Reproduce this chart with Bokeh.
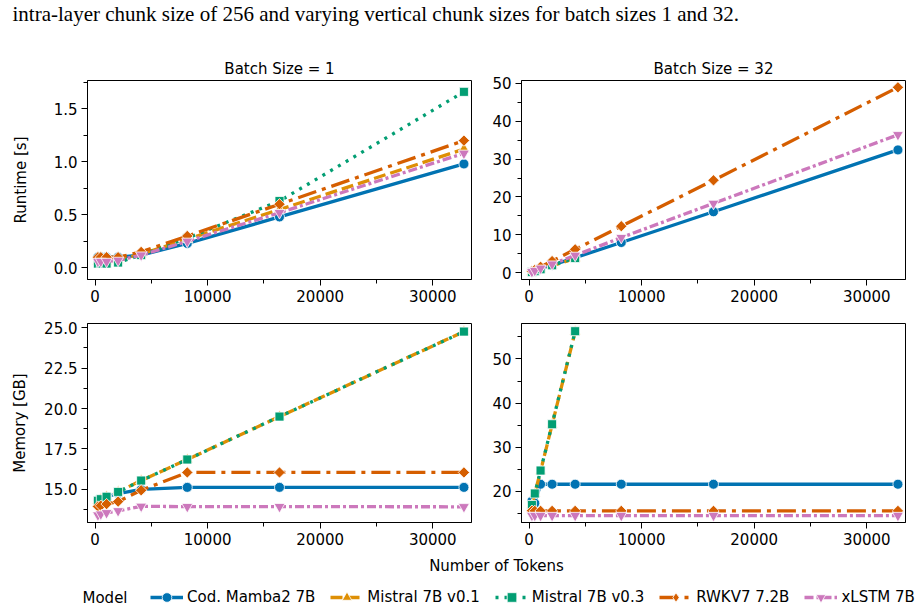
import math
from bokeh.plotting import figure
from bokeh.layouts import column, row
from bokeh.models import (Range1d, SingleIntervalTicker, NumeralTickFormatter, Label,
                          Legend, LegendItem, ColumnDataSource)
from bokeh.embed import file_html
from bokeh.resources import INLINE

# ---------------- data ----------------
tokens = [256, 512, 1024, 2048, 4096, 8192, 16384, 32768]
models = ["Cod. Mamba2 7B", "Mistral 7B v0.1", "Mistral 7B v0.3", "RWKV7 7.2B", "xLSTM 7B"]

# Runtime [s], batch size 1
rt_b1_mamba = [0.10, 0.10, 0.10, 0.10, 0.12, 0.23, 0.48, 0.98]
rt_b1_mistral01 = [0.06, 0.06, 0.06, 0.07, 0.13, 0.27, 0.55, 1.12]
rt_b1_mistral03 = [0.04, 0.04, 0.04, 0.05, 0.12, 0.28, 0.63, 1.66]
rt_b1_rwkv = [0.10, 0.10, 0.10, 0.10, 0.15, 0.30, 0.60, 1.20]
rt_b1_xlstm = [0.06, 0.06, 0.06, 0.07, 0.12, 0.25, 0.52, 1.08]

# Runtime [s], batch size 32
rt_b32_mamba = [0.25, 0.5, 1.0, 2.0, 4.0, 8.0, 16.1, 32.4]
rt_b32_mistral01 = [0.2, 0.45, 0.9, 1.9, 3.8]
rt_b32_mistral03 = [0.2, 0.45, 0.95, 2.0, 3.9]
rt_b32_rwkv = [0.4, 0.8, 1.6, 3.1, 6.2, 12.3, 24.4, 48.9]
rt_b32_xlstm = [0.3, 0.6, 1.2, 2.3, 4.6, 9.3, 18.3, 36.4]

# Memory [GB], batch size 1
mem_b1_mamba = [14.35, 14.4, 14.55, 14.75, 15.0, 15.13, 15.13, 15.13]
mem_b1_mistral01 = [14.3, 14.4, 14.55, 14.85, 15.55, 16.85, 19.5, 24.75]
mem_b1_mistral03 = [14.3, 14.4, 14.55, 14.85, 15.55, 16.85, 19.5, 24.75]
mem_b1_rwkv = [13.95, 14.0, 14.1, 14.25, 14.95, 16.05, 16.05, 16.05]
mem_b1_xlstm = [13.42, 13.48, 13.56, 13.68, 13.96, 13.94, 13.94, 13.93]

# Memory [GB], batch size 32
mem_b32_mamba = [17.8, 17.3, 21.6, 21.6, 21.6, 21.6, 21.6, 21.6]
mem_b32_mistral01 = [16.8, 19.4, 24.6, 35.1, 56.2]
mem_b32_mistral03 = [16.9, 19.5, 24.7, 35.2, 56.3]
mem_b32_rwkv = [15.6, 15.55, 15.55, 15.55, 15.55, 15.55, 15.55, 15.55]
mem_b32_xlstm = [14.5, 14.5, 14.5, 14.5, 14.5, 14.5, 14.5, 14.5]

panel_titles = ["Batch Size = 1", "Batch Size = 32"]
y_labels = ["Runtime [s]", "Memory [GB]"]
x_label = "Number of Tokens"
legend_title = "Model"
caption = "intra-layer chunk size of 256 and varying vertical chunk sizes for batch sizes 1 and 32."

# ---------------- styles ----------------
colors = ["#0173B2", "#DE8F05", "#029E73", "#D55E00", "#CC78BC"]
dashes = ["solid", "12 5", "3 6", "19 6 4 6", "9 3 3 3"]
markers = ["circle", "triangle", "square", "square", "inverted_triangle"]
legend_markers = ["circle", "triangle", "square", "diamond", "inverted_triangle"]
angles = [0, 0, 0, math.pi / 4, 0]
msizes = [10, 11, 9, 8, 11]
FONT = "DejaVu Sans"
FS = "15px"
LW = 3.3


def style_axis(ax):
    ax.major_label_text_font = FONT
    ax.major_label_text_font_size = FS
    ax.major_label_text_color = "black"
    ax.major_tick_out = 6
    ax.major_tick_in = 0
    ax.minor_tick_out = 4
    ax.minor_tick_in = 0
    ax.major_tick_line_color = "black"
    ax.minor_tick_line_color = "black"
    ax.axis_line_color = "black"
    ax.major_label_standoff = 4
    ax.axis_label_text_font = FONT
    ax.axis_label_text_font_size = FS
    ax.axis_label_text_font_style = "normal"
    ax.axis_label_text_color = "black"


def panel(series, yr, yint, yfmt, width, height, left, right, top, bottom,
          title=None, ylabel=None, ylabel_standoff=10):
    p = figure(width=width, height=height,
               x_range=Range1d(-670, 33440), y_range=Range1d(*yr),
               output_backend="svg", toolbar_location=None,
               min_border_left=left, min_border_right=right,
               min_border_top=top, min_border_bottom=bottom)
    if title:
        p.title.text = title
        p.title.align = "center"
        p.title.text_font = FONT
        p.title.text_font_size = FS
        p.title.text_font_style = "normal"
        p.title.text_color = "black"
        p.title.standoff = 6
    p.xgrid.visible = False
    p.ygrid.visible = False
    p.outline_line_color = "black"
    p.outline_line_width = 1
    p.outline_line_alpha = 1
    p.xaxis.ticker = SingleIntervalTicker(interval=10000, num_minor_ticks=2)
    p.yaxis.ticker = SingleIntervalTicker(interval=yint, num_minor_ticks=2)
    p.xaxis.formatter = NumeralTickFormatter(format="0")
    p.yaxis.formatter = NumeralTickFormatter(format=yfmt)
    style_axis(p.xaxis[0])
    style_axis(p.yaxis[0])
    if ylabel:
        p.yaxis.axis_label = ylabel
        p.yaxis.axis_label_standoff = ylabel_standoff
    for i, vals in enumerate(series):
        src = ColumnDataSource(dict(x=tokens[:len(vals)], y=vals))
        p.line("x", "y", source=src, line_color=colors[i], line_width=LW,
               line_dash=dashes[i])
        p.scatter("x", "y", source=src, marker=markers[i], size=msizes[i],
                  angle=angles[i], fill_color=colors[i], line_color="white",
                  line_width=0.8)
    return p


tl = panel([rt_b1_mamba, rt_b1_mistral01, rt_b1_mistral03, rt_b1_rwkv, rt_b1_xlstm],
           (-0.110, 1.767), 0.5, "0.0", 476, 273, 87, 5, 40, 34,
           title=panel_titles[0], ylabel=y_labels[0], ylabel_standoff=21)
tr = panel([rt_b32_mamba, rt_b32_mistral01, rt_b32_mistral03, rt_b32_rwkv, rt_b32_xlstm],
           (-1.75, 50.7), 10, "0", 440, 273, 45, 11, 40, 34,
           title=panel_titles[1])
bl = panel([mem_b1_mamba, mem_b1_mistral01, mem_b1_mistral03, mem_b1_rwkv, mem_b1_xlstm],
           (12.96, 25.25), 2.5, "0.0", 476, 243, 87, 5, 10, 34,
           ylabel=y_labels[1], ylabel_standoff=12)
br = panel([mem_b32_mamba, mem_b32_mistral01, mem_b32_mistral03, mem_b32_rwkv, mem_b32_xlstm],
           (12.92, 58.05), 10, "0", 440, 243, 45, 11, 10, 34)

# caption strip
cap = figure(width=916, height=40, x_range=Range1d(0, 916), y_range=Range1d(0, 40),
             x_axis_type=None, y_axis_type=None, output_backend="svg",
             toolbar_location=None, min_border=0)
cap.outline_line_color = None
cap.xgrid.visible = False
cap.ygrid.visible = False
cap.add_layout(Label(x=12, y=27, text=caption, text_font="Liberation Serif",
                     text_font_size="21px", text_baseline="middle", text_color="black"))

# bottom strip: x label + legend
bot = figure(width=916, height=54, x_range=Range1d(0, 916), y_range=Range1d(0, 54),
             x_axis_type=None, y_axis_type=None, output_backend="svg",
             toolbar_location=None, min_border=0)
bot.outline_line_color = None
bot.xgrid.visible = False
bot.ygrid.visible = False
bot.add_layout(Label(x=496, y=45, text=x_label, text_font=FONT, text_font_size=FS,
                     text_align="center", text_baseline="middle", text_color="black"))
bot.add_layout(Label(x=82, y=13, text=legend_title, text_font=FONT, text_font_size=FS,
                     text_align="left", text_baseline="middle", text_color="black"))
items = []
for i, name in enumerate(models):
    # one-row placeholder source (NaN -> nothing drawn in the strip itself)
    proxy = ColumnDataSource(dict(x=[float("nan")], y=[float("nan")]))
    rl = bot.line("x", "y", source=proxy, line_color=colors[i], line_width=LW,
                  line_dash=dashes[i])
    rs = bot.scatter("x", "y", source=proxy, marker=legend_markers[i], size=msizes[i],
                     fill_color=colors[i], line_color="white", line_width=0.8)
    items.append(LegendItem(label=name, renderers=[rl, rs], index=0))
legend = Legend(items=items, orientation="horizontal", location=(150, 1),
                glyph_width=33, glyph_height=24, label_standoff=4, spacing=15,
                padding=0, margin=0, border_line_alpha=0, background_fill_alpha=0,
                label_text_font=FONT, label_text_font_size=FS,
                label_text_color="black")
bot.add_layout(legend)

layout = column(cap, row(tl, tr, spacing=0), row(bl, br, spacing=0), bot, spacing=0)

open("out.html", "w").write(file_html(layout, INLINE))
